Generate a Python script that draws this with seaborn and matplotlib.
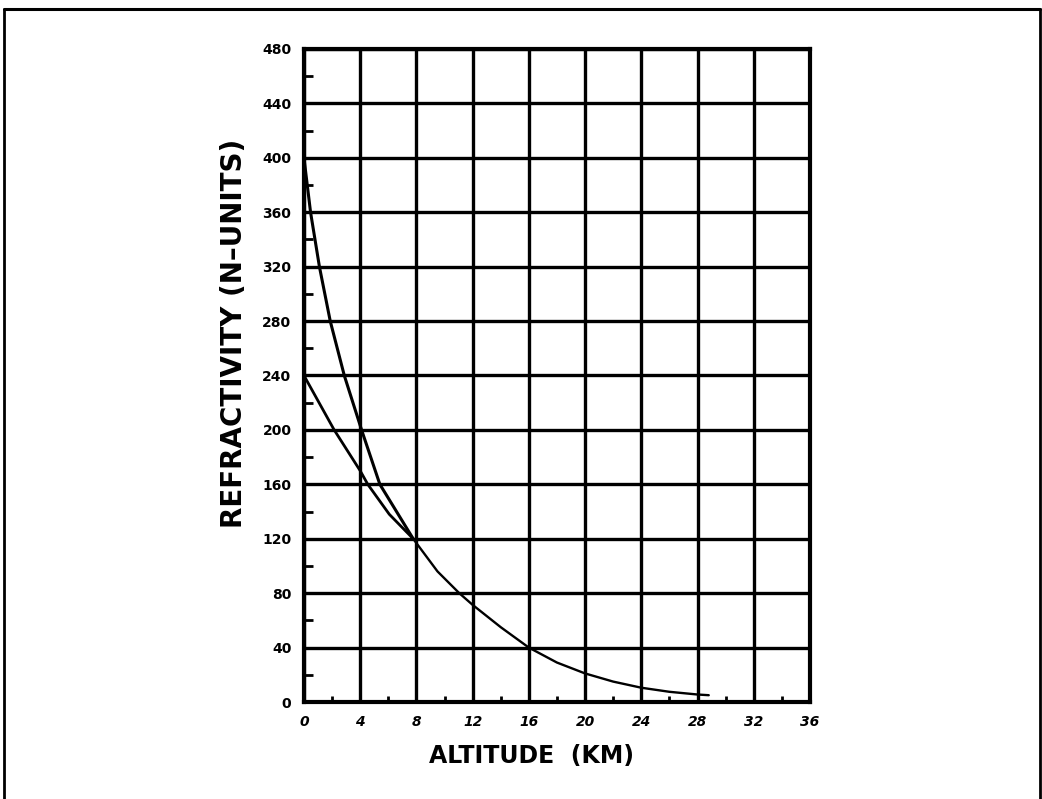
import matplotlib
matplotlib.use("Agg")
import matplotlib.pyplot as plt
from matplotlib.lines import Line2D
from matplotlib.ticker import MultipleLocator
import numpy as np
import pandas as pd
import seaborn as sns

# Refractivity profiles (altitude in km, refractivity in N-units)
alt_upper = [0.0, 0.2, 0.47, 1.1, 1.87, 2.87, 4.1, 5.4, 7.77]
n_upper = [400, 383, 360, 320, 280, 240, 200, 160, 120]

alt_lower = [0.0, 2.15, 4.0, 4.54, 6.07, 7.77]
n_lower = [240, 200, 170, 160, 138, 120]

# Common profile above the merge point
alt_tail = [7.77, 9.5, 11.05, 12.0, 14.0, 16.0, 18.0, 20.0, 22.0, 24.0, 26.0, 28.0, 28.8]
n_tail = [120, 96, 80, 71.4, 55, 40, 29, 21, 15, 10.5, 7.5, 5.5, 5]

x_ticks = [0, 4, 8, 12, 16, 20, 24, 28, 32, 36]
y_ticks = [0, 40, 80, 120, 160, 200, 240, 280, 320, 360, 400, 440, 480]

sns.set_theme(style="white")
plt.rcParams["font.family"] = ["DejaVu Sans"]
plt.rcParams.update({
    "text.color": "black",
    "axes.labelcolor": "black",
    "xtick.color": "black",
    "ytick.color": "black",
})

fig = plt.figure(figsize=(10.42, 7.99), dpi=100)
ax = fig.add_axes([0.2917, 0.1214, 0.4856, 0.8173])

upper = pd.DataFrame({"alt": alt_upper, "n": n_upper})
lower = pd.DataFrame({"alt": alt_lower, "n": n_lower})
tail = pd.DataFrame({"alt": alt_tail, "n": n_tail})

sns.lineplot(data=upper, x="alt", y="n", sort=False, estimator=None,
             color="black", linewidth=2.2, ax=ax, zorder=5)
sns.lineplot(data=lower, x="alt", y="n", sort=False, estimator=None,
             color="black", linewidth=2.0, ax=ax, zorder=5)
sns.lineplot(data=tail, x="alt", y="n", sort=False, estimator=None,
             color="black", linewidth=1.7, ax=ax, zorder=5)

ax.set_xlim(0, 36)
ax.set_ylim(0, 480)
ax.set_xticks(x_ticks)
ax.set_yticks(y_ticks)
ax.set_xticklabels([str(v) for v in x_ticks], fontweight="bold",
                   fontstyle="italic", fontsize=10)
ax.set_yticklabels([str(v) for v in y_ticks], fontweight="bold", fontsize=10)

ax.xaxis.set_minor_locator(MultipleLocator(2))
ax.yaxis.set_minor_locator(MultipleLocator(20))
ax.tick_params(axis="both", which="major", length=0, pad=9)
ax.tick_params(axis="x", which="minor", direction="in", length=4, width=2,
               color="black", bottom=True, top=False)
ax.tick_params(axis="y", which="minor", direction="in", length=6.5, width=2,
               color="black", left=True, right=False)

ax.grid(True, which="major", color="black", linewidth=2.4)
ax.set_axisbelow(True)
for side in ax.spines.values():
    side.set_visible(True)
    side.set_color("black")
    side.set_linewidth(3)

ax.set_xlabel("ALTITUDE  (KM)", fontsize=17, fontweight="bold")
ax.xaxis.set_label_coords(0.45, -0.064)
ax.set_ylabel("REFRACTIVITY (N\u2013UNITS)", fontsize=20, fontweight="bold")
ax.yaxis.set_label_coords(-0.111, 0.565)

# Page frame around the figure
fig.add_artist(Line2D([0.004, 0.998], [0.989, 0.989], color="black", linewidth=2.2))
fig.add_artist(Line2D([0.004, 0.004], [0.0, 0.989], color="black", linewidth=2.0))
fig.add_artist(Line2D([0.998, 0.998], [0.0, 0.989], color="black", linewidth=2.0))

fig.savefig("out.png", dpi=100, facecolor="white")
